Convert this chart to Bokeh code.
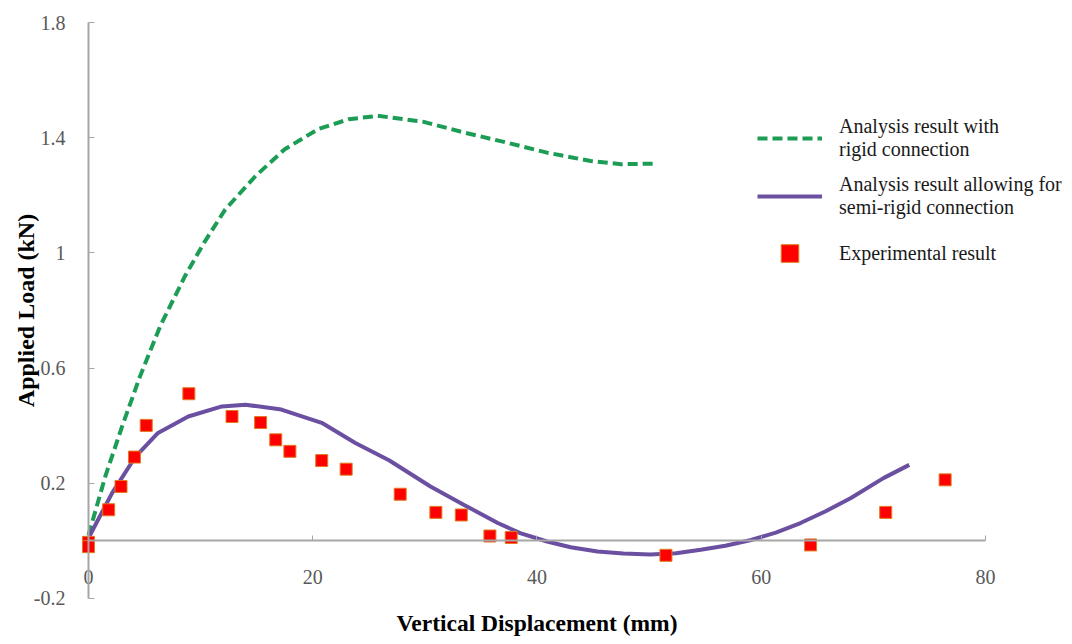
from bokeh.plotting import figure
from bokeh.models import FixedTicker, Legend, LegendItem
from bokeh.embed import file_html
from bokeh.resources import INLINE

# ---- data ----
rigid_x = [0, 1.5, 3.0, 4.6, 6.4, 8.6, 10.3, 12.2, 14.9, 17.5, 20.5, 23.2, 25.8,
           29.9, 33.5, 37.3, 40.9, 44.8, 47.5, 50.4]
rigid_y = [0.02, 0.224, 0.398, 0.572, 0.746, 0.919, 1.035, 1.151, 1.267, 1.36, 1.43,
           1.464, 1.476, 1.455, 1.418, 1.383, 1.348, 1.319, 1.308, 1.31]

semi_x = [0, 2.1, 4.2, 6.2, 8.9, 11.9, 14.0, 17.2, 20.8, 23.8, 26.8, 30.5, 33.5, 36.5,
          38.5, 40.9, 43.0, 45.4, 47.7, 50.1, 52.4, 54.6, 56.8, 59.1, 61.3, 63.5, 65.7,
          68.0, 70.9, 73.2]
semi_y = [0.01, 0.166, 0.293, 0.375, 0.432, 0.467, 0.473, 0.456, 0.41, 0.34, 0.28, 0.189,
          0.125, 0.062, 0.027, -0.002, -0.022, -0.037, -0.044, -0.047, -0.043, -0.031,
          -0.017, 0.003, 0.029, 0.062, 0.102, 0.149, 0.218, 0.264]

exp_x = [0, 0, 1.8, 2.9, 4.1, 5.15, 8.95, 12.8, 15.35, 16.7, 17.96, 20.8, 22.98, 27.8,
         30.98, 33.25, 35.8, 37.7, 51.5, 64.4, 71.1, 76.4]
exp_y = [-0.005, -0.02, 0.108, 0.189, 0.291, 0.401, 0.511, 0.432, 0.411, 0.351, 0.311,
         0.279, 0.249, 0.162, 0.099, 0.090, 0.017, 0.012, -0.050, -0.014, 0.099, 0.212]

x_ticks = [0, 20, 40, 60, 80]
y_ticks = [-0.2, 0.2, 0.6, 1, 1.4, 1.8]
y_tick_text = {-0.2: "-0.2", 1: "1"}

legend_labels = ["Analysis result with\nrigid connection",
                 "Analysis result allowing for\nsemi-rigid connection",
                 "Experimental result"]

x_title = "Vertical Displacement (mm)"
y_title = "Applied Load (kN)"

# ---- figure ----
FONT = "Liberation Serif"
AXIS_COLOR = "#a6a6a6"

W, H = 1064, 642
# the frame fills the canvas; axes cross at (0, 0)
p = figure(width=W, height=H,
           x_range=(-7.848, 87.046), y_range=(-0.35278, 1.8764),
           output_backend="svg", toolbar_location=None,
           min_border_left=0, min_border_right=0, min_border_top=0,
           min_border_bottom=0)
p.grid.visible = False
p.outline_line_color = None
p.background_fill_color = "white"
p.border_fill_color = "white"

r_rigid = p.line(rigid_x, rigid_y, line_color="#1c9c55", line_width=4,
                 line_dash="10 5")
r_semi = p.line(semi_x, semi_y, line_color="#6b4fa0", line_width=4)
r_exp = p.scatter(exp_x, exp_y, marker="square", size=12, fill_color="#ff0000",
                  line_color="#e07b20", line_width=1)

# x axis (crosses at y = 0)
xa = p.xaxis[0]
xa.fixed_location = 0
xa.bounds = (0, 80)
xa.ticker = FixedTicker(ticks=x_ticks)
xa.axis_line_color = AXIS_COLOR
xa.axis_line_width = 2
xa.major_tick_line_color = AXIS_COLOR
xa.major_tick_line_width = 1
xa.major_tick_in = 5
xa.major_tick_out = 0
xa.minor_tick_line_color = None
xa.major_label_standoff = 29
xa.major_label_text_font = FONT
xa.major_label_text_font_size = "20px"
xa.major_label_text_color = "#595959"
xa.axis_label = x_title
xa.axis_label_standoff = 23
xa.axis_label_text_font = FONT
xa.axis_label_text_font_size = "23.5px"
xa.axis_label_text_font_style = "bold"
xa.axis_label_text_color = "black"

# y axis (crosses at x = 0)
ya = p.yaxis[0]
ya.fixed_location = 0
ya.bounds = (-0.2, 1.8)
ya.ticker = FixedTicker(ticks=y_ticks)
ya.major_label_overrides = y_tick_text
ya.axis_line_color = AXIS_COLOR
ya.axis_line_width = 2
ya.major_tick_line_color = AXIS_COLOR
ya.major_tick_line_width = 1
ya.major_tick_in = 6
ya.major_tick_out = 0
ya.minor_tick_line_color = None
ya.major_label_standoff = 23
ya.major_label_text_font = FONT
ya.major_label_text_font_size = "20px"
ya.major_label_text_color = "#595959"
ya.axis_label = y_title
ya.axis_label_standoff = -8
ya.axis_label_text_font = FONT
ya.axis_label_text_font_size = "24px"
ya.axis_label_text_font_style = "bold"
ya.axis_label_text_color = "black"

legend = Legend(
    items=[LegendItem(label=legend_labels[0], renderers=[r_rigid]),
           LegendItem(label=legend_labels[1], renderers=[r_semi]),
           LegendItem(label=legend_labels[2], renderers=[r_exp])],
    location=(757, 367),
    border_line_color=None, background_fill_alpha=0,
    padding=0, margin=0, spacing=12,
    glyph_width=65, glyph_height=44, label_standoff=17,
    label_text_font=FONT, label_text_font_size="20px",
    label_text_color="#1a1a1a",
)
p.add_layout(legend)

open("out.html", "w").write(file_html(p, INLINE))
